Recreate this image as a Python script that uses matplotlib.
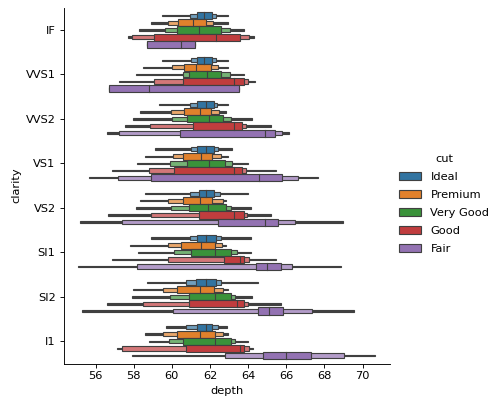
import numpy as np
import matplotlib.pyplot as plt
import matplotlib.colors as mcolors
from matplotlib.patches import Rectangle, Patch

#categories
clarity = ['IF', 'VVS1', 'VVS2', 'VS1', 'VS2', 'SI1', 'SI2', 'I1']
cuts = ['Ideal', 'Premium', 'Very Good', 'Good', 'Fair']
colors = ['#3274a1', '#e1812c', '#3a923a', '#c03d3e', '#9372b2']

#letter values of depth, one row per cut, one column per clarity
q1 = [[61.3, 61.3, 61.3, 61.3, 61.4, 61.3, 61.25, 61.3],
      [60.33, 60.62, 60.62, 60.59, 60.59, 60.5, 60.28, 60.28],
      [60.28, 60.9, 60.82, 60.82, 60.9, 60.99, 60.9, 60.59],
      [59.07, 60.59, 61.11, 60.12, 61.42, 62.73, 60.9, 60.76],
      [58.71, 56.7, 60.41, 58.93, 62.42, 64.42, 64.54, 64.77]]
med = [[61.67, 61.67, 61.81, 61.81, 61.81, 61.81, 61.81, 61.81],
       [61.11, 61.29, 61.46, 61.55, 61.46, 61.55, 61.46, 61.46],
       [61.42, 61.84, 61.93, 61.93, 61.9, 62.24, 62.24, 62.24],
       [62.3, 63.24, 63.24, 63.24, 63.24, 63.55, 63.41, 63.55],
       [60.5, 58.81, 64.89, 64.56, 64.89, 65.0, 65.12, 66.0]]
q3 = [[62.12, 62.1, 62.21, 62.21, 62.21, 62.3, 62.33, 62.1],
      [61.77, 62.07, 62.07, 62.12, 62.12, 62.24, 62.19, 62.24],
      [62.59, 62.59, 62.68, 62.8, 62.85, 63.08, 63.11, 63.11],
      [63.58, 63.77, 63.69, 63.69, 63.77, 63.77, 63.81, 63.81],
      [61.2, 63.51, 65.43, 65.78, 65.55, 65.73, 65.85, 67.3]]
lo2 = [[60.97, 60.99, 60.94, 61.02, 60.94, 60.94, 60.73, 60.73],
       [59.81, 60.03, 59.98, 60.07, 59.81, 59.81, 59.54, 59.54],
       [59.63, 60.59, 60.03, 59.89, 59.98, 60.12, 59.89, 59.86],
       [57.89, 59.06, 58.88, 58.81, 58.9, 59.81, 58.5, 57.37],
       [58.71, 56.7, 57.23, 57.19, 57.4, 58.2, 60.07, 62.8]]
hi2 = [[62.33, 62.3, 62.38, 62.42, 62.5, 62.59, 62.59, 62.42],
       [62.16, 62.42, 62.47, 62.59, 62.68, 62.63, 62.68, 62.68],
       [63.03, 63.03, 63.11, 63.17, 63.11, 63.41, 63.29, 63.32],
       [64.07, 63.98, 63.9, 63.9, 63.95, 64.07, 63.98, 64.04],
       [61.2, 63.51, 65.78, 66.6, 66.48, 66.3, 67.33, 69.04]]
lo3 = [[59.46, 59.51, 59.33, 59.11, 58.59, 58.93, 58.71, 59.72],
       [58.93, 58.5, 58.33, 58.59, 58.33, 57.8, 57.98, 58.59],
       [58.29, 58.12, 57.94, 58.15, 58.12, 58.24, 57.89, 58.81],
       [57.72, 57.25, 57.54, 56.84, 56.67, 56.84, 56.58, 57.14],
       [58.71, 56.7, 56.58, 55.68, 55.19, 55.1, 55.28, 57.9]]
hi3 = [[62.94, 62.94, 62.94, 63.17, 63.98, 64.16, 64.51, 62.89],
       [62.94, 62.94, 62.85, 62.94, 62.85, 62.85, 62.94, 62.94],
       [63.81, 63.81, 64.19, 63.98, 64.16, 64.16, 64.21, 63.98],
       [64.33, 64.37, 65.2, 65.47, 65.2, 65.47, 65.73, 64.28],
       [61.2, 63.51, 66.16, 67.64, 68.95, 68.86, 69.56, 70.66]]

edge = '0.25'
slot = 0.8 / len(cuts)

fig = plt.figure(figsize=(500/81.6, 408/81.6), dpi=81.6)
ax = fig.add_axes([0.127, 0.109, 0.653, 0.872])

def light(c, amt):
    c = np.array(mcolors.to_rgb(c))
    return tuple(c + (1 - c) * amt)

for j, cut in enumerate(cuts):
    for i in range(len(clarity)):
        yc = i - 0.4 + slot * (j + 0.5)
        # outermost levels (thin), then second level, then the box
        levels = [(lo3[j][i], hi3[j][i], 0.2, edge),
                  (lo2[j][i], hi2[j][i], 0.6, light(colors[j], 0.3)),
                  (q1[j][i], q3[j][i], 1.0, colors[j])]
        for lo, hi, h, fc in levels:
            if hi - lo <= 0:
                continue
            hh = slot * h
            ax.add_patch(Rectangle((lo, yc - hh/2), hi - lo, hh,
                                   facecolor=fc, edgecolor=edge, linewidth=1.0))
        ax.plot([med[j][i], med[j][i]], [yc - slot/2, yc + slot/2],
                color=edge, linewidth=1.0)

ax.autoscale_view()
ax.set_ylim(len(clarity) - 0.5, -0.5)
ax.set_yticks(range(len(clarity)))
ax.set_yticklabels(clarity)
ax.set_xticks(np.arange(56, 71, 2))
ax.set_xlabel('depth')
ax.set_ylabel('clarity')
ax.spines['top'].set_visible(False)
ax.spines['right'].set_visible(False)

handles = [Patch(facecolor=c, edgecolor=edge, linewidth=1.0) for c in colors]
fig.legend(handles, cuts, title='cut', loc='center left',
           bbox_to_anchor=(0.777, 0.5), frameon=False, labelspacing=0.7)

plt.savefig('out.png', dpi=81.6)
